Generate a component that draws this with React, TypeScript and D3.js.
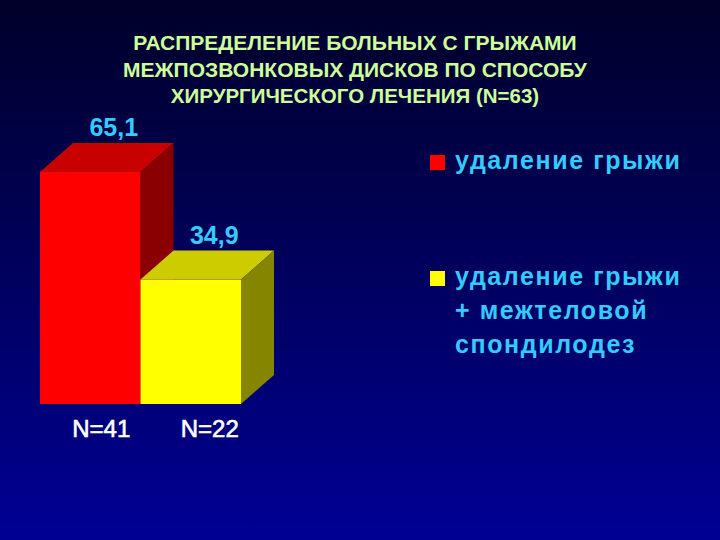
import * as d3 from 'd3';

const categories = ['N=41', 'N=22'];
const values = [65.1, 34.9];
const valueLabels = ['65,1', '34,9'];
const titleLines = [
  'РАСПРЕДЕЛЕНИЕ БОЛЬНЫХ С ГРЫЖАМИ',
  'МЕЖПОЗВОНКОВЫХ ДИСКОВ ПО СПОСОБУ',
  'ХИРУРГИЧЕСКОГО ЛЕЧЕНИЯ (N=63)',
];
const legendItems = [
  ['удаление грыжи'],
  ['удаление грыжи', '+ межтеловой', 'спондилодез'],
];

const W = 720;
const H = 540;
const font = '"Liberation Sans", Arial, sans-serif';
const depth = { dx: 33, dy: 29 };
const palette = [
  { front: '#ff0000', top: '#c80000', side: '#8a0000' },
  { front: '#ffff00', top: '#cccc00', side: '#858500' },
];
const base = 404;
// small horizontal nudge of the category labels under each bar
const catNudge = [11, 19];

export default function App() {
  const x = d3.scaleBand<string>().domain(categories).range([40, 241]).padding(0);
  const y = d3.scaleLinear().domain([0, 70]).range([base, base - 70 * 3.564]);
  const bw = x.bandwidth();

  return (
    <svg
      width={W}
      height={H}
      style={{ position: 'fixed', left: 0, top: 0, display: 'block' }}
      fontFamily={font}
      fontWeight="bold"
    >
      <defs>
        <linearGradient id="bg" x1="0" y1="0" x2="0" y2="1">
          <stop offset="0" stopColor="#00002a" />
          <stop offset="0.45" stopColor="#000058" />
          <stop offset="1" stopColor="#000094" />
        </linearGradient>
      </defs>
      <rect width={W} height={H} fill="url(#bg)" />

      {titleLines.map((t, i) => (
        <text
          key={i}
          x={355}
          y={50 + i * 26.5}
          textAnchor="middle"
          fill="#ccff99"
          fontSize={i === 2 ? 20.5 : 21}
        >
          {t}
        </text>
      ))}

      {categories.map((c, i) => {
        const x0 = x(c)!;
        const x1 = x0 + bw;
        const yt = y(values[i]);
        const col = palette[i];
        const topPts = [
          [x0, yt],
          [x0 + depth.dx, yt - depth.dy],
          [x1 + depth.dx, yt - depth.dy],
          [x1, yt],
        ];
        const sidePts = [
          [x1, yt],
          [x1 + depth.dx, yt - depth.dy],
          [x1 + depth.dx, base - depth.dy],
          [x1, base],
        ];
        return (
          <g key={c}>
            <polygon points={topPts.map((p) => p.join(',')).join(' ')} fill={col.top} />
            <polygon points={sidePts.map((p) => p.join(',')).join(' ')} fill={col.side} />
            <rect x={x0} y={yt} width={bw} height={base - yt} fill={col.front} />
            <text
              x={x0 + bw / 2 + depth.dx / 2 + 7}
              y={yt - depth.dy - 7}
              textAnchor="middle"
              fill="#33ccff"
              fontSize={25}
            >
              {valueLabels[i]}
            </text>
            <text
              x={x0 + bw / 2 + catNudge[i]}
              y={437}
              textAnchor="middle"
              fill="#ffffff"
              fontSize={24}
              fontWeight="normal"
              stroke="#ffffff"
              strokeWidth={0.6}
            >
              {c}
            </text>
          </g>
        );
      })}

      {legendItems.map((lines, i) => {
        const y0 = i === 0 ? 155 : 271;
        return (
          <g key={i}>
            <rect x={430} y={y0} width={15} height={15} fill={palette[i].front} />
            {lines.map((l, j) => (
              <text
                key={j}
                x={455}
                y={y0 + 14 + j * 34}
                fill="#33ccff"
                fontSize={25}
                letterSpacing={1.6}
              >
                {l}
              </text>
            ))}
          </g>
        );
      })}
    </svg>
  );
}
